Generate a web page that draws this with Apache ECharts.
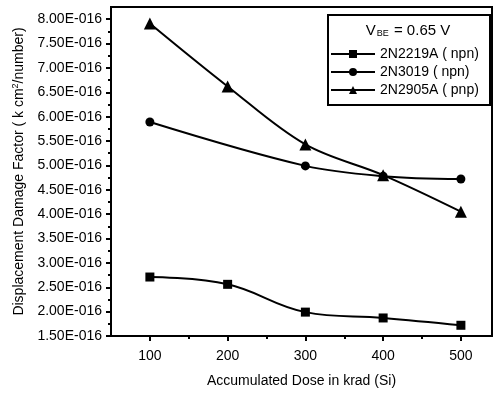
<!DOCTYPE html>
<html>
<head>
<meta charset="utf-8">
<script src="https://cdn.jsdelivr.net/npm/echarts@6/dist/echarts.min.js"></script>
<style>
  html, body { margin: 0; padding: 0; background: #fff; }
  #chart { width: 495px; height: 393px; }
</style>
</head>
<body>
<div id="chart"></div>
<script>
// values in units of 1E-016 k cm^2/number
const doses = [100, 200, 300, 400, 500]
const n2219a = [2.71, 2.56, 1.99, 1.87, 1.72]
const n3019Doses = [100, 300, 400, 500]
const n3019 = [5.89, 4.99, 4.78, 4.72]
const n2905a = [7.91, 6.62, 5.43, 4.80, 4.05]

const majorX = [100, 200, 300, 400, 500]
const minorX = [150, 250, 350, 450]
const majorY = [1.5, 2, 2.5, 3, 3.5, 4, 4.5, 5, 5.5, 6, 6.5, 7, 7.5, 8]
const minorY = [1.75, 2.25, 2.75, 3.25, 3.75, 4.25, 4.75, 5.25, 5.75, 6.25, 6.75, 7.25, 7.75]

const FONT = 'Liberation Sans'

const chart = echarts.init(document.getElementById('chart'))

const zip = (xs, ys) => xs.map((x, i) => [x, ys[i]])
const lineSeries = (name, data, symbol, size, smooth) => ({
  name,
  type: 'line',
  data,
  symbol,
  symbolSize: size,
  smooth,
  lineStyle: { color: '#000', width: 2 },
  itemStyle: { color: '#000' }
})

chart.setOption({
  animation: false,
  grid: {
    left: 111, right: 3, top: 7, bottom: 57,
    show: true, borderColor: '#000', borderWidth: 2
  },
  legend: {
    orient: 'vertical',
    left: 330, top: 47, padding: 0,
    itemWidth: 44, itemHeight: 10, itemGap: 4,
    textStyle: { fontFamily: FONT, fontSize: 14, color: '#000' },
    data: ['2N2219A ( npn)', '2N3019 ( npn)', '2N2905A ( pnp)']
  },
  graphic: [
    {
      type: 'rect',
      shape: { x: 328, y: 15, width: 162, height: 90 },
      style: { fill: '#fff', stroke: '#000', lineWidth: 2 },
      z: 1
    },
    {
      type: 'text',
      x: 408, y: 31,
      z: 2,
      style: {
        text: 'V{sub|BE} = 0.65 V',
        align: 'center', verticalAlign: 'middle',
        font: '15px ' + FONT, fill: '#000',
        rich: { sub: { fontSize: 9, fontFamily: FONT, padding: [6, 1, 0, 1] } }
      }
    }
  ],
  xAxis: [
    {
      type: 'value', min: 50, max: 540,
      name: 'Accumulated Dose in krad (Si)',
      nameLocation: 'middle', nameGap: 38,
      nameTextStyle: { fontFamily: FONT, fontSize: 14, color: '#000' },
      splitLine: { show: false },
      axisLine: { lineStyle: { color: '#000', width: 2 } },
      axisTick: { customValues: majorX, length: 5, lineStyle: { color: '#000', width: 2 } },
      axisLabel: { customValues: majorX, margin: 13, fontFamily: FONT, fontSize: 14, color: '#000' }
    },
    {
      type: 'value', min: 50, max: 540, position: 'bottom',
      splitLine: { show: false },
      axisLine: { show: false },
      axisTick: { customValues: minorX, length: 3, lineStyle: { color: '#000', width: 2 } },
      axisLabel: { show: false }
    }
  ],
  yAxis: [
    {
      type: 'value', min: 1.5, max: 8.25,
      name: 'Displacement Damage Factor ( k cm{sup|2}/number)',
      nameLocation: 'middle', nameGap: 82,
      nameTextStyle: {
        fontFamily: FONT, fontSize: 14, color: '#000',
        rich: { sup: { fontSize: 9, fontFamily: FONT, padding: [0, 0, 8, 0] } }
      },
      splitLine: { show: false },
      axisLine: { lineStyle: { color: '#000', width: 2 } },
      axisTick: { customValues: majorY, length: 5, lineStyle: { color: '#000', width: 2 } },
      axisLabel: {
        customValues: majorY, margin: 9,
        fontFamily: FONT, fontSize: 14, color: '#000',
        formatter: v => v.toFixed(2) + 'E-016'
      }
    },
    {
      type: 'value', min: 1.5, max: 8.25, position: 'left',
      splitLine: { show: false },
      axisLine: { show: false },
      axisTick: { customValues: minorY, length: 3, lineStyle: { color: '#000', width: 2 } },
      axisLabel: { show: false }
    }
  ],
  series: [
    lineSeries('2N2219A ( npn)', zip(doses, n2219a), 'rect', 9, 0.4),
    lineSeries('2N3019 ( npn)', zip(n3019Doses, n3019), 'circle', 9, 0.35),
    lineSeries('2N2905A ( pnp)', zip(doses, n2905a), 'triangle', 12, 0.35)
  ]
})
</script>
</body>
</html>
